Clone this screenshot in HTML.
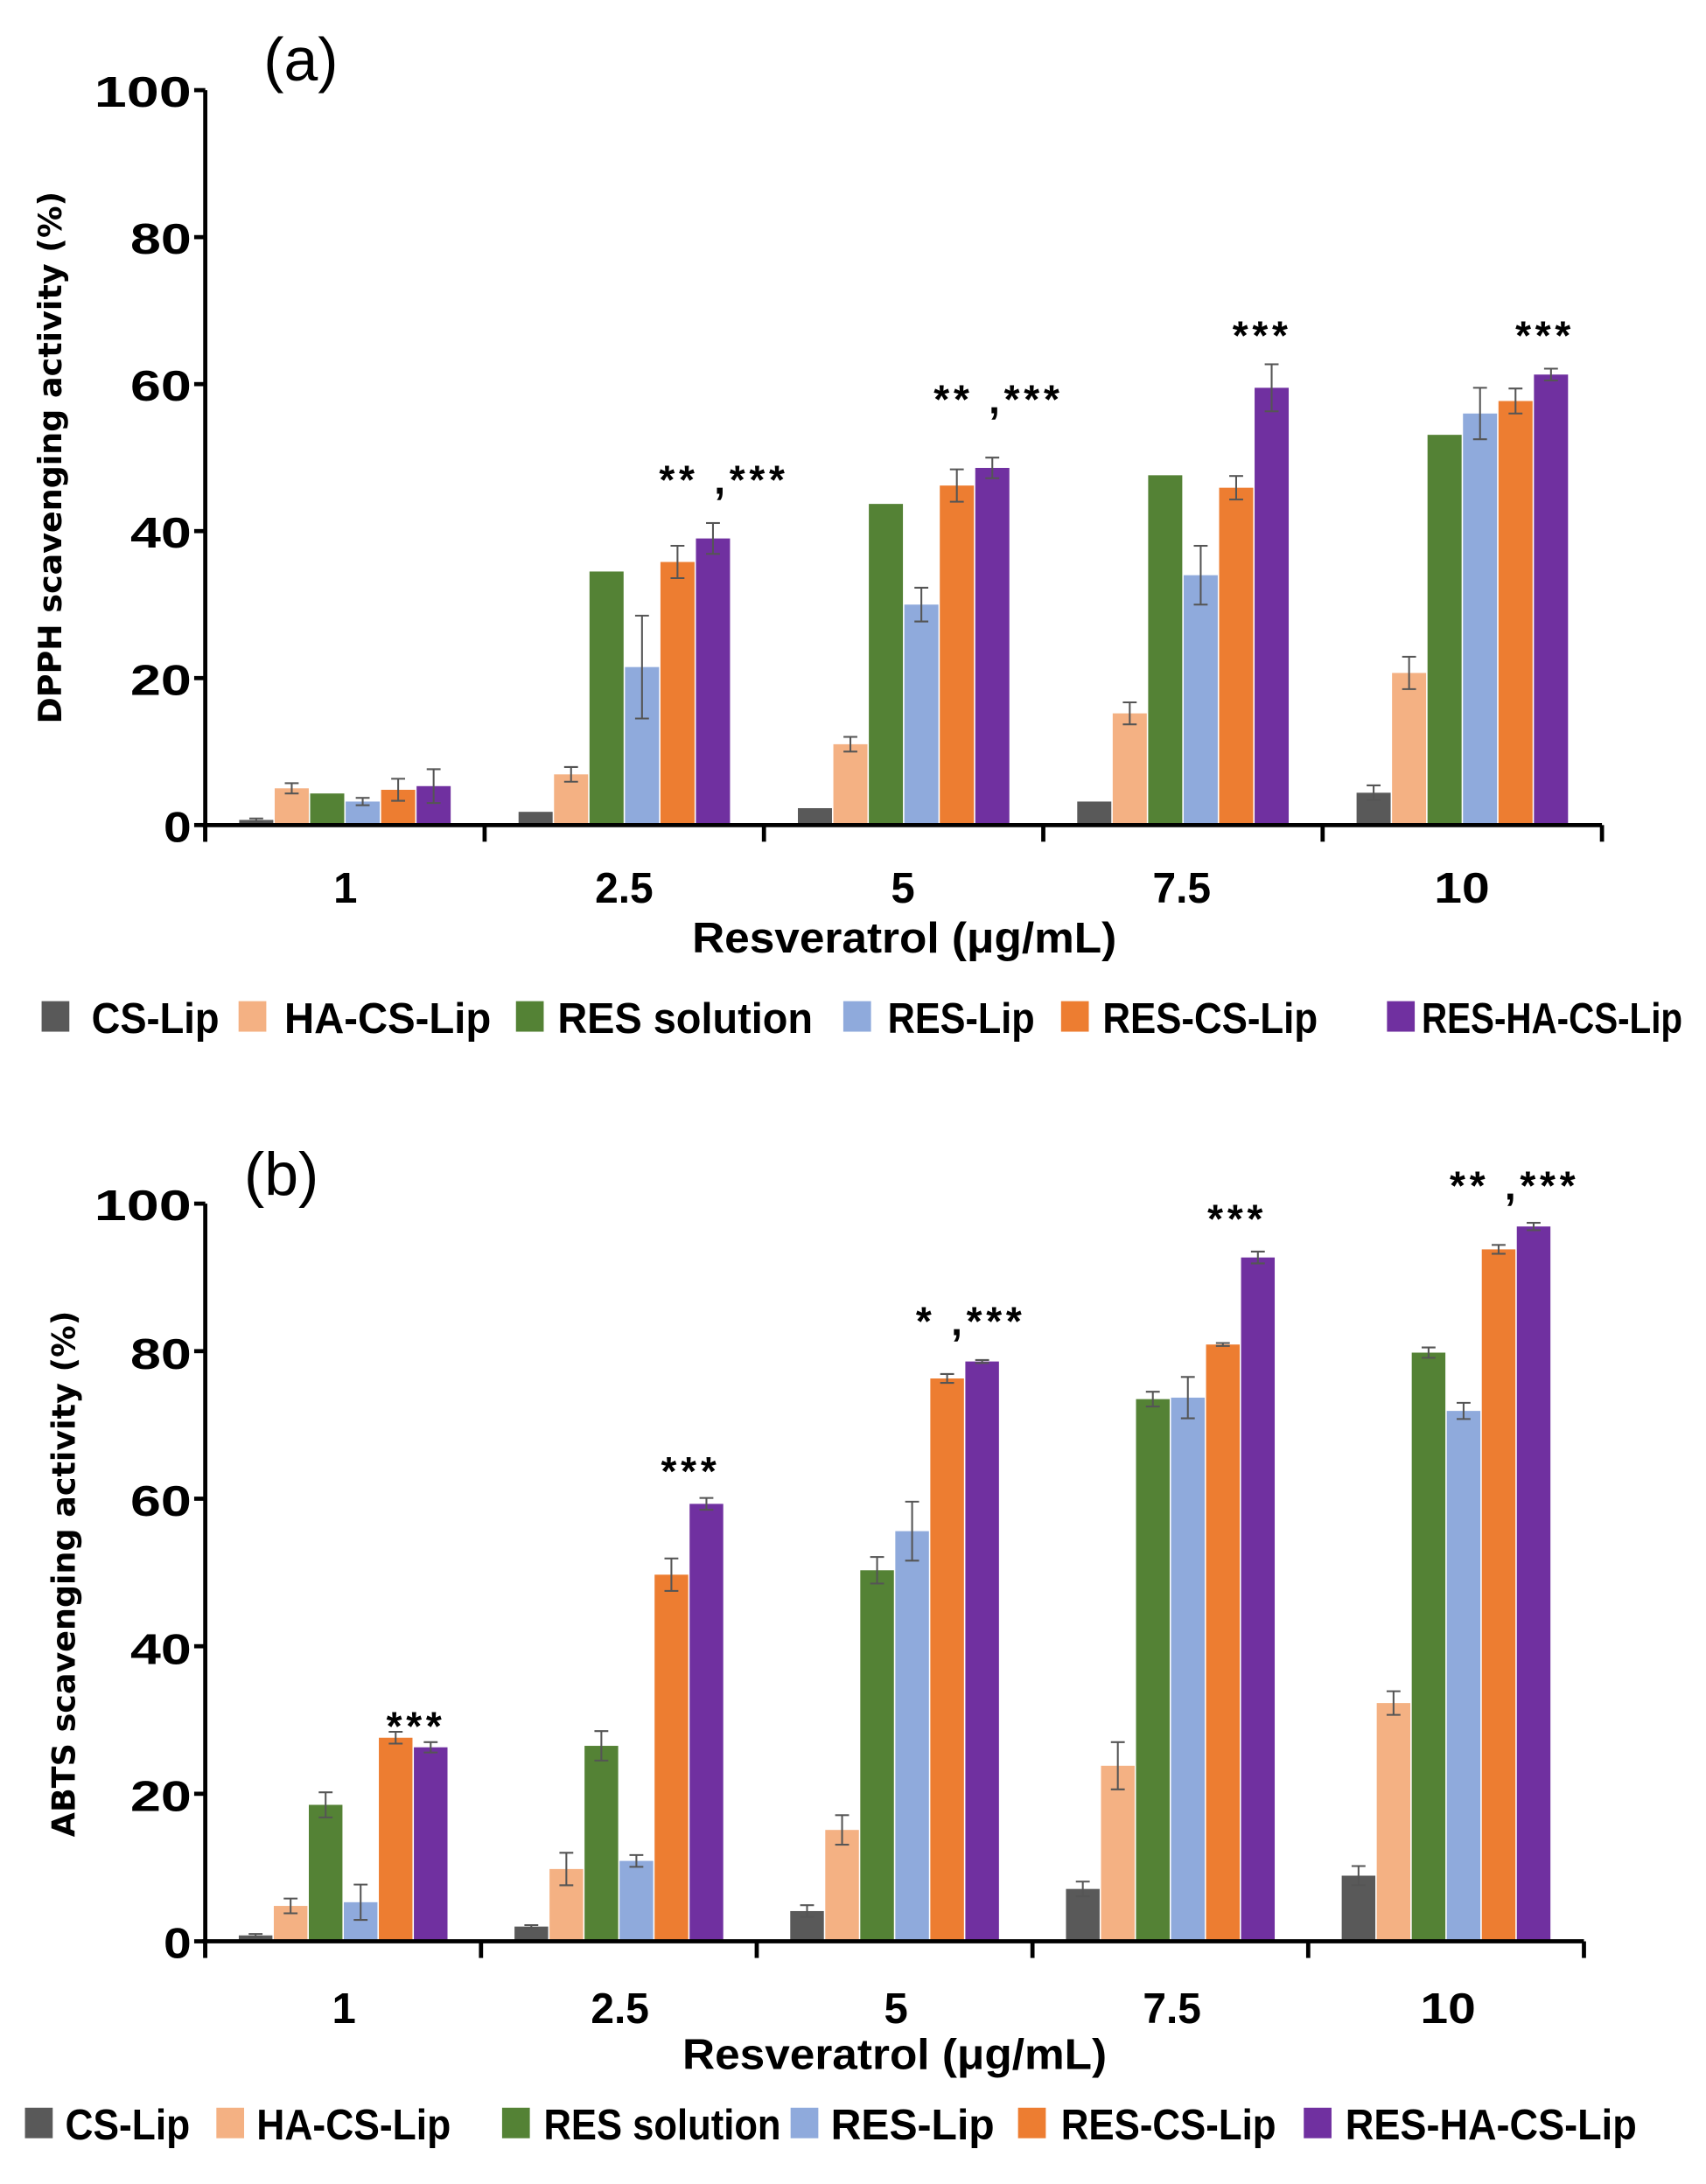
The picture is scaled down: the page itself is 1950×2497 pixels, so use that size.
<!DOCTYPE html>
<html><head><meta charset="utf-8">
<style>
html,body{margin:0;padding:0;background:#fff;}
svg{display:block;}
text{font-family:"Liberation Sans",sans-serif;fill:#000;}
.t{font-size:31px;font-weight:bold;text-anchor:middle;}
.yt{font-size:31px;font-weight:bold;text-anchor:end;}
.lg{font-size:31px;font-weight:bold;}
.an{font-size:29px;font-weight:bold;text-anchor:middle;letter-spacing:3px;}
.yl{font-family:"DejaVu Sans","Liberation Sans",sans-serif;font-size:23px;font-weight:bold;text-anchor:middle;}
</style></head>
<body>
<svg id="s" width="1950" height="2497" viewBox="0 0 1230 1575" xmlns="http://www.w3.org/2000/svg">
<g id="bars"></g>
<!-- Chart a -->
<text x="190" y="58" style="font-size:44px">(a)</text>
<text x="138" y="77" class="yt" textLength="70" lengthAdjust="spacingAndGlyphs">100</text>
<text x="138" y="183" class="yt" textLength="44" lengthAdjust="spacingAndGlyphs">80</text>
<text x="138" y="289" class="yt" textLength="44" lengthAdjust="spacingAndGlyphs">60</text>
<text x="138" y="395" class="yt" textLength="44" lengthAdjust="spacingAndGlyphs">40</text>
<text x="138" y="501" class="yt" textLength="44" lengthAdjust="spacingAndGlyphs">20</text>
<text x="138" y="607" class="yt" textLength="20" lengthAdjust="spacingAndGlyphs">0</text>
<text transform="translate(44,330) rotate(-90)" class="yl">DPPH scavenging activity  (%)</text>
<text x="249" y="651" class="t">1</text>
<text x="450" y="651" class="t" textLength="42" lengthAdjust="spacingAndGlyphs">2.5</text>
<text x="651" y="651" class="t">5</text>
<text x="852" y="651" class="t" textLength="42" lengthAdjust="spacingAndGlyphs">7.5</text>
<text x="1054" y="651" class="t" textLength="40" lengthAdjust="spacingAndGlyphs">10</text>
<text x="652" y="687" class="t" textLength="306" lengthAdjust="spacingAndGlyphs">Resveratrol (μg/mL)</text>
<text x="522" y="356" class="an">** ,***</text>
<text x="720" y="298" class="an">** ,***</text>
<text x="910" y="252" class="an">***</text>
<text x="1114" y="252" class="an">***</text>
<!-- Chart b -->
<text x="176" y="862" style="font-size:44px">(b)</text>
<text x="138" y="880" class="yt" textLength="70" lengthAdjust="spacingAndGlyphs">100</text>
<text x="138" y="987" class="yt" textLength="44" lengthAdjust="spacingAndGlyphs">80</text>
<text x="138" y="1093" class="yt" textLength="44" lengthAdjust="spacingAndGlyphs">60</text>
<text x="138" y="1200" class="yt" textLength="44" lengthAdjust="spacingAndGlyphs">40</text>
<text x="138" y="1306" class="yt" textLength="44" lengthAdjust="spacingAndGlyphs">20</text>
<text x="138" y="1412" class="yt" textLength="20" lengthAdjust="spacingAndGlyphs">0</text>
<text transform="translate(54,1135) rotate(-90)" class="yl">ABTS scavenging activity (%)</text>
<text x="248" y="1459" class="t">1</text>
<text x="447" y="1459" class="t" textLength="42" lengthAdjust="spacingAndGlyphs">2.5</text>
<text x="646" y="1459" class="t">5</text>
<text x="845" y="1459" class="t" textLength="42" lengthAdjust="spacingAndGlyphs">7.5</text>
<text x="1044" y="1459" class="t" textLength="40" lengthAdjust="spacingAndGlyphs">10</text>
<text x="645" y="1492" class="t" textLength="306" lengthAdjust="spacingAndGlyphs">Resveratrol (μg/mL)</text>
<text x="300" y="1255" class="an">***</text>
<text x="498" y="1071" class="an">***</text>
<text x="700" y="963" class="an">* ,***</text>
<text x="892" y="889" class="an">***</text>
<text x="1092" y="865" class="an">** ,***</text>
<!-- legends -->
<g>
<rect x="30" y="722" width="20" height="22" fill="#595959"/><text x="66" y="745" class="lg" textLength="92" lengthAdjust="spacingAndGlyphs">CS-Lip</text>
<rect x="172" y="722" width="20" height="22" fill="#f4b183"/><text x="205" y="745" class="lg" textLength="149" lengthAdjust="spacingAndGlyphs">HA-CS-Lip</text>
<rect x="372" y="722" width="20" height="22" fill="#548235"/><text x="402" y="745" class="lg" textLength="184" lengthAdjust="spacingAndGlyphs">RES solution</text>
<rect x="608" y="722" width="20" height="22" fill="#8faadc"/><text x="640" y="745" class="lg" textLength="106" lengthAdjust="spacingAndGlyphs">RES-Lip</text>
<rect x="765" y="722" width="20" height="22" fill="#ed7d31"/><text x="795" y="745" class="lg" textLength="155" lengthAdjust="spacingAndGlyphs">RES-CS-Lip</text>
<rect x="1000" y="722" width="20" height="22" fill="#7030a0"/><text x="1025" y="745" class="lg" textLength="188" lengthAdjust="spacingAndGlyphs">RES-HA-CS-Lip</text>
</g>
<g>
<rect x="18" y="1520" width="20" height="22" fill="#595959"/><text x="47" y="1543" class="lg" textLength="90" lengthAdjust="spacingAndGlyphs">CS-Lip</text>
<rect x="156" y="1520" width="20" height="22" fill="#f4b183"/><text x="185" y="1543" class="lg" textLength="140" lengthAdjust="spacingAndGlyphs">HA-CS-Lip</text>
<rect x="362" y="1520" width="20" height="22" fill="#548235"/><text x="392" y="1543" class="lg" textLength="171" lengthAdjust="spacingAndGlyphs">RES solution</text>
<rect x="570" y="1520" width="20" height="22" fill="#8faadc"/><text x="599" y="1543" class="lg" textLength="118" lengthAdjust="spacingAndGlyphs">RES-Lip</text>
<rect x="734" y="1520" width="20" height="22" fill="#ed7d31"/><text x="765" y="1543" class="lg" textLength="155" lengthAdjust="spacingAndGlyphs">RES-CS-Lip</text>
<rect x="940" y="1520" width="20" height="22" fill="#7030a0"/><text x="970" y="1543" class="lg" textLength="210" lengthAdjust="spacingAndGlyphs">RES-HA-CS-Lip</text>
</g>
</svg>
<script>
(function(){
var cols=["#595959","#f4b183","#548235","#8faadc","#ed7d31","#7030a0"];
var g=document.getElementById("bars");var ns="http://www.w3.org/2000/svg";
function el(n,a){var e=document.createElementNS(ns,n);for(var k in a)e.setAttribute(k,a[k]);g.appendChild(e);return e;}
function chart(x0,x1,y0,ppu,data,err){
 var gw=(x1-x0)/5,bw=gw*0.127;
 for(var i=0;i<5;i++){
  var cx=x0+gw*(i+0.5),st=cx-bw*3;
  for(var j=0;j<6;j++){
   var v=data[i][j],h=v*ppu,x=st+j*bw;
   el("rect",{x:x+0.5,y:y0-h,width:bw-1,height:h,fill:cols[j]});
   var e=err[i][j];
   if(e>0){var c=x+bw/2,ya=y0-(v+e)*ppu,yb=y0-(v-e)*ppu;
    el("line",{x1:c,x2:c,y1:ya,y2:yb,stroke:"#555","stroke-width":1.3});
    el("line",{x1:c-5,x2:c+5,y1:ya,y2:ya,stroke:"#555","stroke-width":1.3});
    el("line",{x1:c-5,x2:c+5,y1:yb,y2:yb,stroke:"#555","stroke-width":1.3});}
  }
 }
 el("line",{x1:x0,x2:x0,y1:y0-100*ppu,y2:y0+12,stroke:"#000","stroke-width":3});
 el("line",{x1:x0-2,x2:x1,y1:y0,y2:y0,stroke:"#000","stroke-width":3});
 for(var k=0;k<=5;k++){var tx=x0+gw*k;el("line",{x1:tx,x2:tx,y1:y0,y2:y0+12,stroke:"#000","stroke-width":3});}
 for(var t=0;t<=100;t+=20){el("line",{x1:x0-8,x2:x0,y1:y0-t*ppu,y2:y0-t*ppu,stroke:"#000","stroke-width":3});}
}
chart(148,1155,595,5.3,
[[0.7,5,4.3,3.2,4.8,5.3],[1.8,6.9,34.5,21.5,35.8,39],[2.3,11,43.7,30,46.2,48.6],[3.2,15.2,47.6,34,45.9,59.5],[4.4,20.7,53.1,56,57.7,61.3]],
[[0.2,0.7,0,0.5,1.5,2.3],[0,1,0,7,2.2,2.1],[0,1,0,2.3,2.2,1.4],[0,1.5,0,4,1.6,3.2],[1,2.2,0,3.5,1.7,0.8]]);
chart(148,1142,1400,5.32,
[[0.8,4.8,18.5,5.3,27.6,26.3],[2,9.8,26.5,10.9,49.7,59.3],[4.1,15.1,50.3,55.6,76.3,78.6],[7.1,23.8,73.5,73.7,80.9,92.7],[8.9,32.3,79.8,71.9,93.8,96.9]],
[[0.2,1,1.7,2.4,0.8,0.7],[0.2,2.2,2,0.8,2.2,0.8],[0.8,2,1.8,4,0.6,0.2],[1,3.2,1,2.8,0.2,0.8],[1.3,1.6,0.7,1.1,0.6,0.5]]);
})();
</script>
</body></html>
